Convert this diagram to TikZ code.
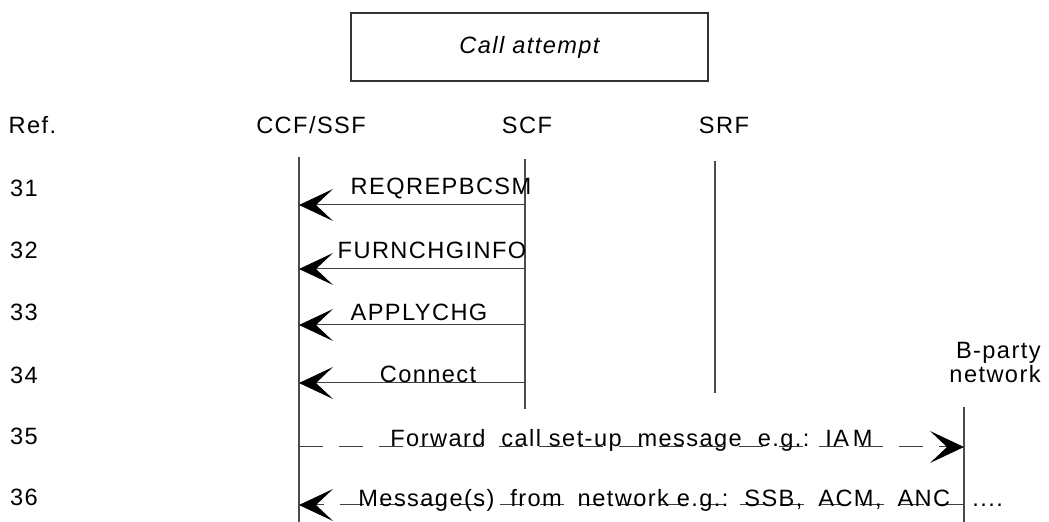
\documentclass[tikz,border=0pt]{standalone}
\usepackage{fontspec}
\setmainfont{Liberation Sans}[LetterSpace=6]
\usetikzlibrary{arrows.meta,positioning}

\begin{document}
\begin{tikzpicture}[x=0.5pt, y=-0.5pt,
  lbl/.style={font=\fontsize{11.8}{14}\selectfont, inner sep=0pt},
  lifeline/.style={draw=black!70, line width=0.7pt},
  msg/.style={-{Stealth[length=17pt, width=16pt, inset=8.5pt, color=black]},
              draw=black!75, line width=0.5pt},
  dmsg/.style={msg, dash pattern=on 12pt off 8pt}
]
\useasboundingbox (0,0) rectangle (1049,522);

\node[draw=black!80, line width=0.6pt, minimum width=178.5pt, minimum height=34pt,
      lbl, font=\fontsize{11.8}{14}\selectfont\itshape] (attempt) at (529.5,47) {Call attempt};

% column headers
\node[lbl] (ref) at (32.5,125) {Ref.};
\node[lbl] (ccf) at (311,125) {CCF/SSF};
\node[lbl] (scf) at (527,125) {SCF};
\node[lbl] (srf) at (724,125) {SRF};
\node[lbl, align=right, anchor=south east, font=\fontsize{11.8}{10.5}\selectfont]
  (bnet) at (1041,383) {B-party\\network};

% row numbers
\foreach \n/\y in {31/188.5, 32/250, 33/312, 34/375, 35/436, 36/497}
  \node[lbl] (r\n) at (24,\y) {\n};

% lifelines
\coordinate (ccftop) at (299,157);  \coordinate (ccfbot) at (299,522);
\coordinate (scftop) at (525,159);  \coordinate (scfbot) at (525,409);
\coordinate (srftop) at (715,161);  \coordinate (srfbot) at (715,393);
\coordinate (bnettop) at (964,407); \coordinate (bnetbot) at (964,522);
\draw[lifeline] (ccftop) -- (ccfbot);
\draw[lifeline] (scftop) -- (scfbot);
\draw[lifeline] (srftop) -- (srfbot);
\draw[lifeline] (bnettop) -- (bnetbot);

% message ends
\foreach \n/\y in {31/205, 32/269, 33/325, 34/383} {
  \coordinate (ccf\n) at (299,\y);
  \coordinate (scf\n) at (525,\y);
}
\coordinate (ccf35) at (299,447);  \coordinate (bnet35) at (964,447);
\coordinate (ccf36) at (299,505);  \coordinate (bnet36) at (964,505);

% messages
\draw[msg] (scf31) -- (ccf31);
\draw[msg] (scf32) -- (ccf32);
\draw[msg] (scf33) -- (ccf33);
\draw[msg] (scf34) -- (ccf34);
\draw[dmsg] (ccf35) -- (bnet35);
\draw[dmsg] (bnet36) -- (ccf36);

\node[lbl] (m31) at (441,188.5) {REQREPBCSM};
\node[lbl] (m32) at (432,250) {FURNCHGINFO};
\node[lbl] (m33) at (419,312) {APPLYCHG};
\node[lbl] (m34) at (428,374) {Connect};
\node[lbl, anchor=base west] (m35) at (390,447)
  {Forward\ \ call\ set-up\ \ message\ \ e.g.:\ \ IA\,M};
\node[lbl, anchor=base west] (m36) at (358,507)
  {Message(s)\ \ from\ \ network e.g.:\ \ SSB,\ \ ACM,\ \ ANC};
\node[lbl, anchor=base west] (more) at (972,507) {....};
\end{tikzpicture}
\end{document}
